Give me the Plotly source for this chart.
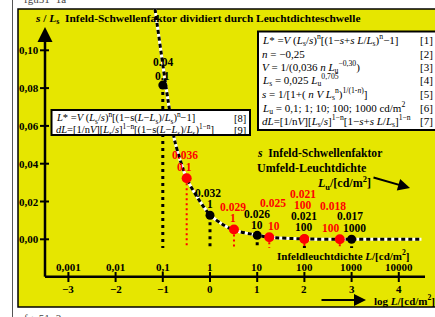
import plotly.graph_objects as go

# ---------------- data ----------------
# curve: log10 L  vs  s/Ls
curve_logL = [-1.165, -0.89, -0.742, -0.494, -0.25, 0.0, 0.254, 0.494, 1.0, 1.256, 2.0, 3.0, 4.48]
curve_val  = [0.1219, 0.0737, 0.0516, 0.0323, 0.0215, 0.0129, 0.0081, 0.0049, 0.0022, 0.0011, 0.0002, 0.0, 0.0]

black_logL = [-1.0, 0.0, 1.0, 2.0, 3.0]
black_val  = [0.0816, 0.0127, 0.0021, 0.0002, 0.0]
black_top  = ["0.04", "0.032", "0.026", "0.021", "0.017"]
black_bot  = ["0.1", "1", "10", "100", "1000"]

red_logL = [-0.494, 0.508, 1.256, 2.0, 2.75]
red_val  = [0.0323, 0.0052, 0.0011, 0.0002, 0.0]
red_top  = ["0.036", "0.029", "0.025", "0.021", "0.018"]
red_bot  = ["0.1", "1", "10", "100", "100"]

y_ticks = [0.0, 0.02, 0.04, 0.06, 0.08, 0.10]
y_tick_labels = ["0,00", "0,02", "0,04", "0,06", "0,08", "0,10"]
x_ticks = [-3, -2, -1, 0, 1, 2, 3, 4]
x_tick_labels = ["\u22123", "\u22122", "\u22121", "0", "1", "2", "3", "4"]
x_lum_labels = ["0,001", "0,01", "0,1", "1", "10", "100", "1000", "10000"]

# ---------------- layout helpers ----------------
W, H = 435, 317
X0, XS = 210.0, 47.2      # pixel of log L = 0, pixels per decade
Y0, YS = 239.3, 1890.0    # pixel of value 0, pixels per unit
def px(x): return x / W
def py(y): return 1 - y / H

FONT = "Liberation Serif"
YEL = "#E6E600"
RED = "#FF0000"

fig = go.Figure()

shapes = []
ann = []

# background frame
shapes.append(dict(type="line", xref="paper", yref="paper", x0=px(12.5), x1=px(12.5), y0=0, y1=1,
                   line=dict(color="#555555", width=1)))
shapes.append(dict(type="rect", xref="paper", yref="paper", x0=px(18), x1=px(445), y0=py(307), y1=py(9),
                   fillcolor=YEL, line=dict(color="black", width=1.5), layer="below"))

# axes
y_axis_x = (45 - X0) / XS
x_axis_y = (Y0 - 276.7) / YS
shapes.append(dict(type="line", x0=y_axis_x, x1=y_axis_x, y0=x_axis_y, y1=(Y0 - 36) / YS,
                   line=dict(color="black", width=2.5)))
shapes.append(dict(type="line", x0=y_axis_x, x1=(425 - X0) / XS, y0=x_axis_y, y1=x_axis_y,
                   line=dict(color="black", width=2.5)))
ann.append(dict(x=y_axis_x, y=(Y0 - 27) / YS, ax=0, ay=14, showarrow=True, arrowhead=2,
                arrowsize=1.2, arrowwidth=2.5, arrowcolor="black", text=""))
ann.append(dict(x=(436 - X0) / XS, y=x_axis_y, ax=-14, ay=0, showarrow=True, arrowhead=2,
                arrowsize=1.2, arrowwidth=2.5, arrowcolor="black", text=""))

for v, lab in zip(y_ticks, y_tick_labels):
    shapes.append(dict(type="line", x0=(40 - X0) / XS, x1=(49 - X0) / XS, y0=v, y1=v,
                       line=dict(color="black", width=2)))
    ann.append(dict(x=(41 - X0) / XS, y=v, text="<b>%s</b>" % lab, showarrow=False,
                    xanchor="right", yanchor="middle", font=dict(family=FONT, size=11, color="black")))

for v, lab, lum in zip(x_ticks, x_tick_labels, x_lum_labels):
    shapes.append(dict(type="line", x0=v, x1=v, y0=(Y0 - 272) / YS, y1=(Y0 - 282) / YS,
                       line=dict(color="black", width=2)))
    ann.append(dict(x=v, y=(Y0 - 289) / YS, text="<b>%s</b>" % lab, showarrow=False,
                    xanchor="center", yanchor="middle", font=dict(family=FONT, size=11, color="black")))
    ann.append(dict(x=v, y=(Y0 - 266.5) / YS, text="<b>%s</b>" % lum, showarrow=False,
                    xanchor="center", yanchor="middle", font=dict(family=FONT, size=11, color="black")))

# dotted drop lines
drop_bottom = (Y0 - 248) / YS
for xv, yv in zip(black_logL, black_val):
    fig.add_trace(go.Scatter(x=[xv, xv], y=[yv, drop_bottom], mode="lines", hoverinfo="skip",
                             line=dict(color="black", width=3, dash="3px,4px"), showlegend=False))
for xv, yv in zip(red_logL, red_val):
    fig.add_trace(go.Scatter(x=[xv, xv], y=[yv, drop_bottom], mode="lines", hoverinfo="skip",
                             line=dict(color=RED, width=2, dash="2px,3px"), showlegend=False))

# curve (white base + black dashes)
fig.add_trace(go.Scatter(x=curve_logL, y=curve_val, mode="lines", line=dict(color="white", width=3, shape="spline", smoothing=0.8),
                         showlegend=False, hoverinfo="skip"))
fig.add_trace(go.Scatter(x=curve_logL, y=curve_val, mode="lines",
                         line=dict(color="black", width=3, dash="4px,3px", shape="spline", smoothing=0.8),
                         showlegend=False, hoverinfo="skip"))

# points
fig.add_trace(go.Scatter(x=black_logL, y=black_val, mode="markers", marker=dict(color="black", size=9),
                         showlegend=False))
fig.add_trace(go.Scatter(x=red_logL, y=red_val, mode="markers", marker=dict(color=RED, size=10),
                         showlegend=False))

# point labels: pixel offsets of (top, bottom) label centres relative to the dot
black_off = [(0, -23, 0, -9), (-2, -22.7, 0, -11.4), (0, -21.7, 0, -10.7), (0, -23.3, 0, -11.6), (-2, -23, 3, -11.3)]
red_off = [(-1.7, -23.3, -1.7, -11.6), (-1, -22, -1, -11), (3.4, -34, 4.7, -11.3), (-1.3, -44.7, -1.3, -34), (-6.7, -33.3, -9, -11.3)]
def lab(xv, yv, text, dx, dy, color):
    ann.append(dict(x=xv, y=yv, text="<b>%s</b>" % text, showarrow=False, xshift=dx, yshift=-dy,
                    xanchor="center", yanchor="middle", font=dict(family=FONT, size=11.5, color=color)))
for xv, yv, t, b, o in zip(black_logL, black_val, black_top, black_bot, black_off):
    lab(xv, yv, t, o[0], o[1], "black")
    lab(xv, yv, b, o[2], o[3], "black")
for xv, yv, t, b, o in zip(red_logL, red_val, red_top, red_bot, red_off):
    lab(xv, yv, t, o[0], o[1], RED)
    lab(xv, yv, b, o[2], o[3], RED)

# title and texts
def txt(x, y, s, size=11, anchor="left", color="black"):
    ann.append(dict(xref="paper", yref="paper", x=px(x), y=py(y), text=s, showarrow=False,
                    xanchor=anchor, yanchor="middle", font=dict(family=FONT, size=size, color=color)))

txt(33, 19, "<b><i>s</i> / <i>L</i><sub>s</sub>  Infeld-Schwellenfaktor dividiert durch Leuchtdichteschwelle</b>", 11.4)
txt(255, 153, "<b><i>s</i>  Infeld-Schwellenfaktor</b>", 11.6)
txt(255, 168, "<b>Umfeld-Leuchtdichte</b>", 12)
txt(315, 183, "<b><i>L</i><sub>u</sub>/[cd/m<sup>2</sup>]</b>", 12)
txt(275, 255, "<b>Infeldleuchtdichte <i>L</i>/[cd/m<sup>2</sup>]</b>", 11)
txt(372, 300, "<b>log <i>L</i>/[cd/m<sup>2</sup>]</b>", 11)
txt(22, -1, "fgu51\u22121a", 11, color="#444444")
txt(22, 318, "fgu51\u22123", 11, color="#444444")

# arrows in text area
ann.append(dict(xref="paper", yref="paper", x=px(410), y=py(188), ax=-38, ay=-11,
                showarrow=True, arrowhead=2, arrowsize=1.2, arrowwidth=2, arrowcolor="black", text=""))
ann.append(dict(xref="paper", yref="paper", x=px(366), y=py(300), ax=-46, ay=0,
                showarrow=True, arrowhead=2, arrowsize=1.2, arrowwidth=2, arrowcolor="black", text=""))

# formula boxes
shapes.append(dict(type="rect", xref="paper", yref="paper", x0=px(258), x1=px(445), y0=py(130), y1=py(31.5),
                   fillcolor="white", line=dict(color="black", width=2)))
shapes.append(dict(type="rect", xref="paper", yref="paper", x0=px(51.5), x1=px(250), y0=py(135), y1=py(110),
                   fillcolor="white", line=dict(color="black", width=2)))

right_lines = [
    "<i>L</i>* =<i>V</i> (<i>L</i><sub>s</sub>/<i>s</i>)<sup>n</sup>[(1\u2212<i>s</i>+<i>s L</i>/<i>L</i><sub>s</sub>)<sup>n</sup>\u22121]",
    "<i>n</i> = \u22120,25",
    "<i>V</i> = 1/(0,036 <i>n L</i><sub>u</sub><sup>\u22120,30</sup>)",
    "<i>L</i><sub>s</sub> = 0,025 <i>L</i><sub>u</sub><sup>0,705</sup>",
    "<i>s</i> = 1/[1+( <i>n V L</i><sub>s</sub><sup>n</sup>)<sup>1/(1-<i>n</i>)</sup>]",
    "<i>L</i><sub>u</sub> = 0,1; 1; 10; 100; 1000 cd/m<sup>2</sup>",
    "<i>dL</i>=[1/n<i>V</i>][<i>L</i><sub>s</sub>/<i>s</i>]<sup>1\u2212n</sup>[1\u2212<i>s</i>+<i>s L</i>/<i>L</i><sub>s</sub>]<sup>1\u2212n</sup>",
]
for i, s in enumerate(right_lines):
    yy = 40 + i * 13.5
    txt(260, yy, s, 11)
    txt(435, yy, "[%d]" % (i + 1), 11, anchor="right")

txt(54, 118, "<i>L</i>* =<i>V</i> (<i>L</i><sub>s</sub>/<i>s</i>)<sup>n</sup>[(1\u2212s(<i>L</i>\u2212<i>L</i><sub>s</sub>)/<i>L</i><sub>s</sub>)<sup>n</sup>\u22121]", 10.5)
txt(248, 118, "[8]", 10.5, anchor="right")
txt(54, 130, "<i>dL</i>=[1/n<i>V</i>][<i>L</i><sub>s</sub>/<i>s</i>]<sup>1\u2212n</sup>[(1\u2212s(<i>L</i>\u2212<i>L</i><sub>s</sub>)/<i>L</i><sub>s</sub>)<sup>1\u2212n</sup>]", 10.5)
txt(248, 130, "[9]", 10.5, anchor="right")

fig.update_layout(
    width=W, height=H, margin=dict(l=0, r=0, t=0, b=0),
    paper_bgcolor="white", plot_bgcolor="rgba(0,0,0,0)",
    xaxis=dict(range=[-X0 / XS, (W - X0) / XS], visible=False, fixedrange=True),
    yaxis=dict(range=[(Y0 - H) / YS, Y0 / YS], visible=False, fixedrange=True),
    shapes=shapes, annotations=ann, showlegend=False,
)
fig.write_html("out.html", config={"displayModeBar": False},
               post_script="document.body.style.margin='0';document.body.style.overflow='hidden';")
